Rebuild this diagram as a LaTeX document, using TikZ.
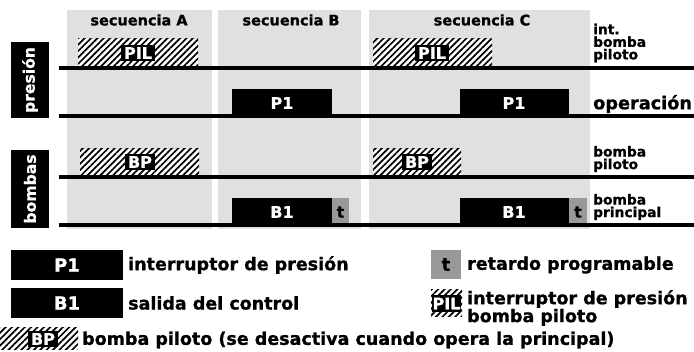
\documentclass[tikz,border=0pt]{standalone}
\usepackage{fontspec}
\setmainfont{DejaVu Sans}[BoldFeatures={FakeBold=1}]
\usetikzlibrary{patterns.meta}
\definecolor{panel}{gray}{0.88}
\definecolor{retardo}{gray}{0.6}
\begin{document}
\begin{tikzpicture}[x=1pt,y=-1pt,
		head/.style={font=\fontsize{14.5}{14}\selectfont\bfseries,inner sep=0},
		lbl/.style={font=\fontsize{13.8}{12.6}\selectfont\bfseries,align=left,anchor=west,inner sep=0},
		leg/.style={font=\fontsize{17.5}{15}\selectfont\bfseries,align=left,anchor=west,inner sep=0},
		intxt/.style={text=white,font=\fontsize{16}{16}\selectfont\bfseries,inner sep=0},
		hatchtxt/.style={fill=black,text=white,font=\fontsize{16}{16}\selectfont\bfseries,inner xsep=3pt,inner ysep=2.5pt,text depth=0pt},
		hatch/.style={fill=white,postaction={pattern={Lines[angle=45,distance=4.5pt,line width=1.7pt]}}},
		eje/.style={line width=3.5pt}]
	\useasboundingbox (0,0) rectangle (694,352);

	% secuencias
	\fill[panel] (67,10) rectangle (212,229);
	\fill[panel] (218,10) rectangle (361,229);
	\fill[panel] (369,10) rectangle (590,229);
	\node[head] (seqA) at (139,20) {secuencia A};
	\node[head] (seqB) at (291,20) {secuencia B};
	\node[head] (seqC) at (482,20) {secuencia C};

	% grupos
	\node[fill=black,text=white,rotate=90,minimum width=76pt,minimum height=38pt,inner sep=0,
		font=\fontsize{15.6}{16}\selectfont\bfseries] (pres) at (30,80) {presión};
	\node[fill=black,text=white,rotate=90,minimum width=78pt,minimum height=38pt,inner sep=0,
		font=\fontsize{15.6}{16}\selectfont\bfseries] (bomb) at (30,189) {bombas};

	% int. bomba piloto
	\path[hatch] (78,39) rectangle (198,66);
	\node[hatchtxt] (pilA) at (138,53) {PIL};
	\path[hatch] (373,39) rectangle (492,66);
	\node[hatchtxt] (pilC) at (432,53) {PIL};

	% operacion
	\fill (232,89) rectangle (332,116);
	\node[intxt] (p1B) at (282,103) {P1};
	\fill (460,89) rectangle (569,116);
	\node[intxt] (p1C) at (514,103) {P1};

	% bomba piloto
	\path[hatch] (80,149) rectangle (199,175);
	\node[hatchtxt] (bpA) at (140,162) {BP};
	\path[hatch] (373,149) rectangle (461,175);
	\node[hatchtxt] (bpC) at (417,162) {BP};

	% bomba principal
	\fill (232,198) rectangle (332,225);
	\node[intxt] (b1B) at (282,212) {B1};
	\fill[retardo] (332,198) rectangle (349,225);
	\node[intxt,text=black] (tB) at (340.5,212) {t};
	\fill (460,198) rectangle (569,225);
	\node[intxt] (b1C) at (514,212) {B1};
	\fill[retardo] (569,198) rectangle (587,225);
	\node[intxt,text=black] (tC) at (578,212) {t};

	% ejes
	\foreach \y in {68,116,177,225}
		\draw[eje] (59,\y) -- (694,\y);

	\node[lbl] (intbp) at (593,43) {int.\\bomba\\piloto};
	\node[font=\fontsize{17.7}{17}\selectfont\bfseries,anchor=west,inner sep=0] (oper) at (593,104) {operación};
	\node[lbl] (bpil) at (593,159) {bomba\\piloto};
	\node[lbl] (bpri) at (593,207) {bomba\\principal};

	% leyenda
	\fill (11,250) rectangle (123,280);
	\node[intxt,font=\fontsize{18}{18}\selectfont\bfseries] (legP1) at (67,265) {P1};
	\node[leg] (txtP1) at (128,265) {interruptor de presión};
	\fill (11,288) rectangle (123,318);
	\node[intxt,font=\fontsize{18}{18}\selectfont\bfseries] (legB1) at (67,303) {B1};
	\node[leg] (txtB1) at (128,303) {salida del control};
	\path[hatch] (0,328) rectangle (78,350);
	\node[hatchtxt] (legBP) at (43,339) {BP};
	\node[leg] (txtBP) at (82,340) {bomba piloto (se desactiva cuando opera la principal)};
	\fill[retardo] (431,250) rectangle (461,279);
	\node[intxt,text=black,font=\fontsize{18}{18}\selectfont\bfseries] (legt) at (446,264.5) {t};
	\node[leg] (txtt) at (467,265) {retardo programable};
	\path[hatch] (431,290) rectangle (462,317);
	\node[hatchtxt,inner xsep=1pt] (legPIL) at (446.5,303.5) {PIL};
	\node[leg] (txtPIL) at (467,308) {interruptor de presión\\bomba piloto};
\end{tikzpicture}
\end{document}
